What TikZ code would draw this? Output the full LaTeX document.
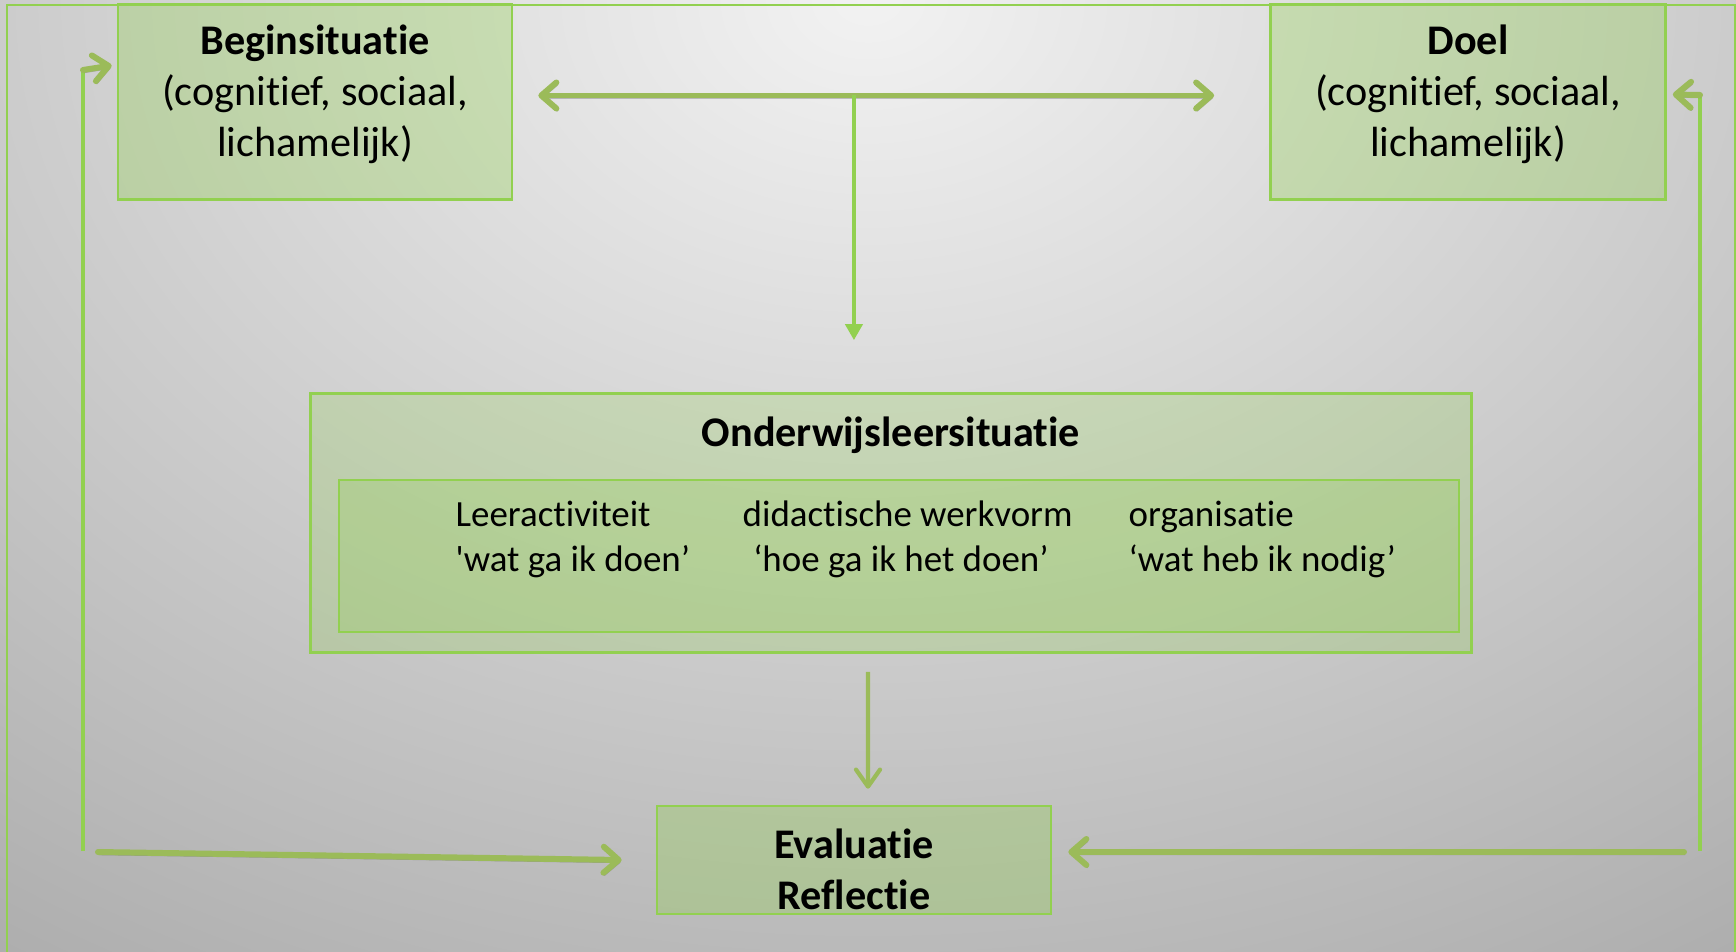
\documentclass[tikz,border=0pt]{standalone}
\usepackage{fontspec}
\setmainfont{Carlito}[Ligatures={TeX,NoCommon}]
\usetikzlibrary{arrows.meta,positioning,calc}

\definecolor{lgreen}{HTML}{92D050}
\definecolor{olive}{HTML}{9BBB59}
\definecolor{bgin}{HTML}{F2F2F2}
\definecolor{bgout}{HTML}{8A8A8A}
\pgfdeclareradialshading{bgshade}{\pgfpoint{0bp}{0bp}}{color(0bp)=(bgin); color(30bp)=(bgout); color(50bp)=(bgout)}

\tikzset{
  box/.style={draw=lgreen, line width=0.7pt, fill=lgreen, fill opacity=0.33,
              text opacity=1, inner sep=0pt, align=center,
              font=\fontsize{12}{14.5}\selectfont},
  col/.style={anchor=north west, align=left, inner sep=0pt,
              font=\fontsize{10.5}{12.8}\selectfont},
  fat/.style={draw=olive, line width=1.7pt, line cap=round,
              preaction={draw=black, opacity=0.2,
                         transform canvas={shift={(0.01cm,-0.025cm)}}}},
  vline/.style={draw=lgreen, line width=1.1pt},
  barb/.tip={Straight Barb[round, length=1.5mm, width=2.6mm]},
}

\begin{document}
\begin{tikzpicture}[x=0.01cm, y=-0.01cm]
  \useasboundingbox (0,0) rectangle (1736,952);
  % background
  \begin{scope}
    \clip (0,0) rectangle (1736,952);
    \shade[shading=bgshade] (868,0) ellipse (19.7cm and 14.6cm);
  \end{scope}
  \draw[lgreen, line width=0.8pt] (7,960) -- (7,5) -- (1735,5) -- (1735,960);

  % boxes
  \node[box, minimum width=3.94cm, minimum height=1.95cm] (begin) at (315,102)
    {\textbf{Beginsituatie}\\(cognitief, sociaal,\\lichamelijk)\rule[-6.5pt]{0pt}{6.5pt}};
  \node[box, minimum width=3.95cm, minimum height=1.95cm] (doel) at (1468,102)
    {\textbf{Doel}\\(cognitief, sociaal,\\lichamelijk)\rule[-6.5pt]{0pt}{6.5pt}};
  \node[box, fill opacity=0.25, minimum width=11.6cm, minimum height=2.59cm] (ols) at (891,523) {};
  \node[inner sep=0pt, font=\bfseries\fontsize{12}{14.5}\selectfont] (olstitle) at (891,435)
    {Onderwijsleersituatie};
  \node[box, fill opacity=0.25, minimum width=11.19cm, minimum height=1.52cm] (olsin) at (899,556) {};
  \node[col] (act) at (455,500) {Leeractiviteit\\\textquotesingle wat ga ik doen’};
  \node[col] (werk) at (742,500) {didactische werkvorm\\\hspace*{3pt}‘hoe ga ik het doen’};
  \node[col] (org) at (1128,500) {organisatie\\‘wat heb ik nodig’};
  \node[box, font=\bfseries\fontsize{12}{14.5}\selectfont, minimum width=3.94cm, minimum height=1.08cm] (eval) at (854,860)
    {\rule{0pt}{14pt}Evaluatie\\Reflectie};

  % connectors
  \draw[fat, barb-barb] ([xshift=0.25cm, yshift=0.065cm]begin.east)
    -- coordinate[pos=0.467] (mid) ([xshift=-0.55cm, yshift=0.065cm]doel.west);
  \draw[vline, -{Triangle[length=1.6mm, width=1.7mm]}, shorten >=0.52cm] (mid) -- (mid |- ols.north);
  \draw[draw=olive, line width=1.2pt, -{Straight Barb[round, length=1.7mm, width=2.4mm]},
        shorten <=0.18cm, shorten >=0.16cm]
    ([xshift=-0.23cm]ols.south) -- ([xshift=0.14cm]eval.north);

  % left loop
  \coordinate (lbot) at (83,851);
  \coordinate (ltop) at (83,70);
  \coordinate (lstart) at (98,852);
  \draw[vline] (lbot) -- (ltop);
  \draw[fat, -barb] (ltop) -- ([xshift=-0.05cm, yshift=0.365cm]begin.west);
  \draw[fat, -barb] (lstart) -- ([xshift=-0.34cm]eval.west);

  % right loop
  \coordinate (rbot) at (1700,851);
  \coordinate (rtop) at (1700,95);
  \coordinate (rstart) at (1684,852);
  \draw[vline] (rbot) -- (rtop);
  \draw[fat, -barb] (rtop) -- ([xshift=0.06cm, yshift=0.075cm]doel.east);
  \draw[fat, -barb] (rstart) -- ([xshift=0.16cm, yshift=0.08cm]eval.east);
\end{tikzpicture}
\end{document}
